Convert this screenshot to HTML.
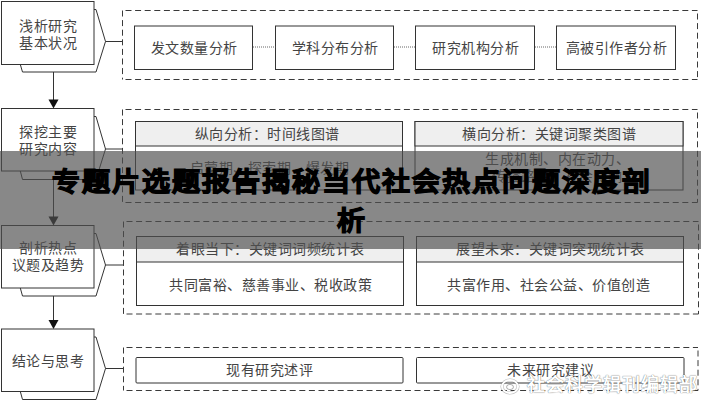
<!DOCTYPE html>
<html lang="zh-CN">
<head>
<meta charset="utf-8">
<style>
html,body{margin:0;padding:0;background:#fff;}
body{width:701px;height:400px;overflow:hidden;position:relative;font-family:"Liberation Serif",serif;color:#444;}
svg{position:absolute;left:0;top:0;}
.t{position:absolute;font-size:14px;letter-spacing:0.5px;line-height:17px;text-align:center;white-space:nowrap;display:flex;align-items:center;justify-content:center;}
.banner{position:absolute;left:0;top:151px;width:701px;height:98px;background:rgba(80,80,80,0.68);}
.title{position:absolute;left:0;top:151px;width:701px;height:98px;display:flex;align-items:center;justify-content:center;}
.title div{font-family:"Liberation Sans",sans-serif;font-weight:900;font-size:28px;letter-spacing:2px;padding-left:2px;line-height:41.5px;position:relative;top:1px;color:#000;text-align:center;width:610px;-webkit-text-stroke:1.3px #000;transform:scaleY(0.95);}
.wm{position:absolute;left:527px;top:375px;font-family:"Liberation Sans",sans-serif;font-size:18px;letter-spacing:1px;line-height:20px;font-weight:700;color:#fff;text-shadow:0 0 1px rgba(0,0,0,0.5),0 0 1px rgba(0,0,0,0.3);white-space:nowrap;}
</style>
</head>
<body>
<svg width="701" height="400" viewBox="0 0 701 400" fill="none">
<g stroke="#333" stroke-width="1">
<!-- left boxes -->
<rect x="1.5" y="1.5" width="92.5" height="63" fill="#fff"/>
<path d="M94 9.5 L96 9.5 L105.5 41.5 L96 72 L22.5 72 L20.3 64.5"/>
<path d="M105.5 41.5 L122.5 41.5"/>

<rect x="1.5" y="108.5" width="92.5" height="62.5" fill="#fff"/>
<path d="M94 116.5 L96 116.5 L105.5 149 L96 179.5 L22.5 179.5 L20.3 171"/>
<path d="M105.5 149 L122.5 149"/>

<rect x="1.5" y="225.5" width="92.5" height="62.5" fill="#fff"/>
<path d="M94 233.5 L96 233.5 L105.5 265 L96 296 L22.5 296 L20.3 288"/>
<path d="M105.5 265 L123.5 265"/>

<rect x="1.5" y="329" width="92.5" height="62.5" fill="#fff"/>
<path d="M94 337 L96 337 L105.5 368.5 L96 399.5 L22.5 399.5 L20.3 391.5"/>
<path d="M105.5 368.5 L123.5 368.5"/>

<!-- vertical arrows -->
<path d="M53.5 72 L53.5 100"/>
<path d="M53.5 179.5 L53.5 217"/>
<path d="M53.5 296 L53.5 320"/>
</g>
<g fill="#111">
<path d="M48.5 99.5 L58.5 99.5 L53.5 108.5 Z"/>
<path d="M48.5 216.5 L58.5 216.5 L53.5 225.5 Z"/>
<path d="M48.5 320 L58.5 320 L53.5 329 Z"/>
</g>

<!-- dashed containers -->
<g stroke="#3a3a3a" stroke-width="1" stroke-dasharray="6 3.6">
<path d="M122.5 10.5 H697.5" stroke-dashoffset="6.6"/>
<path d="M122.5 79.5 H697.5" stroke-dashoffset="6.6"/>
<path d="M122.5 10.5 V79.5" stroke-dashoffset="0"/>
<path d="M697.5 10.5 V79.5" stroke-dashoffset="6.6"/>
<path d="M122.5 109.5 H697.5" stroke-dashoffset="6.6"/>
<path d="M122.5 202.5 H697.5" stroke-dashoffset="6.6"/>
<path d="M122.5 109.5 V202.5" stroke-dashoffset="0"/>
<path d="M697.5 109.5 V202.5" stroke-dashoffset="6.6"/>
<path d="M123.5 221.5 H698.5" stroke-dashoffset="6.6"/>
<path d="M123.5 314 H698.5" stroke-dashoffset="6.6"/>
<path d="M123.5 221.5 V314" stroke-dashoffset="0"/>
<path d="M698.5 221.5 V314" stroke-dashoffset="6.6"/>
<path d="M123.5 347.5 H698" stroke-dashoffset="6.6"/>
<path d="M123.5 390.5 H698" stroke-dashoffset="6.6"/>
<path d="M123.5 347.5 V390.5" stroke-dashoffset="0"/>
<path d="M698 347.5 V390.5" stroke-dashoffset="6.6"/>
</g>

<!-- row1 inner boxes -->
<g stroke="#333" stroke-width="1" fill="#fff">
<rect x="134.5" y="26" width="118" height="43.5"/>
<rect x="275.5" y="26" width="118" height="43.5"/>
<rect x="415.5" y="26" width="119" height="43.5"/>
<rect x="556.5" y="26" width="119" height="43.5"/>
</g>
<g stroke="#666" stroke-width="1" stroke-dasharray="1 1">
<path d="M253 47 L275.5 47"/>
<path d="M394 47 L415 47"/>
<path d="M535 47 L556 47"/>
</g>

<!-- row2 panels -->
<g stroke="#333" stroke-width="1">
<rect x="135.5" y="121.5" width="267" height="68.5" fill="#fff"/>
<rect x="135.5" y="121.5" width="267" height="24.5" fill="#efefef"/>
<rect x="415" y="121.5" width="268" height="68.5" fill="#fff"/>
<rect x="415" y="121.5" width="268" height="24.5" fill="#efefef"/>
</g>

<!-- row3 panels -->
<g stroke="#333" stroke-width="1">
<rect x="136.5" y="236.5" width="267" height="69" fill="#fff"/>
<rect x="136.5" y="236.5" width="267" height="25.5" fill="#efefef"/>
<rect x="416.5" y="236.5" width="267" height="69" fill="#fff"/>
<rect x="416.5" y="236.5" width="267" height="25.5" fill="#efefef"/>
</g>

<!-- row4 boxes -->
<g stroke="#333" stroke-width="1" fill="#fff">
<rect x="136" y="357.5" width="267" height="25.5" rx="1"/>
<rect x="416.5" y="357.5" width="267.5" height="25.5" rx="1"/>
</g>
</svg>

<!-- left box texts -->
<div class="t" style="left:2px;top:2px;width:92px;height:66px;">浅析研究<br>基本状况</div>
<div class="t" style="left:2px;top:109px;width:92px;height:63px;">探挖主要<br>研究内容</div>
<div class="t" style="left:2px;top:226px;width:92px;height:62px;">剖析热点<br>议题及趋势</div>
<div class="t" style="left:2px;top:330px;width:92px;height:63px;">结论与思考</div>

<!-- row1 -->
<div class="t" style="left:135px;top:27px;width:118px;height:43px;">发文数量分析</div>
<div class="t" style="left:276px;top:27px;width:118px;height:43px;">学科分布分析</div>
<div class="t" style="left:416px;top:27px;width:119px;height:43px;">研究机构分析</div>
<div class="t" style="left:557px;top:27px;width:119px;height:43px;">高被引作者分析</div>

<!-- row2 -->
<div class="t" style="left:133.5px;top:122px;width:267px;height:24px;">纵向分析：时间线图谱</div>
<div class="t" style="left:415px;top:122px;width:268px;height:24px;">横向分析：关键词聚类图谱</div>
<div class="t" style="left:136px;top:146px;width:267px;height:44px;">启蒙期、探索期、爆发期</div>
<div class="t" style="left:415px;top:146px;width:268px;height:44px;padding-left:17px;box-sizing:border-box;">生成机制、内在动力、<br>传播路径、社会影响</div>

<!-- row3 -->
<div class="t" style="left:137px;top:237px;width:267px;height:25px;">着眼当下：关键词词频统计表</div>
<div class="t" style="left:417px;top:237px;width:267px;height:25px;">展望未来：关键词突现统计表</div>
<div class="t" style="left:137px;top:264px;width:267px;height:43px;">共同富裕、慈善事业、税收政策</div>
<div class="t" style="left:415px;top:264px;width:267px;height:43px;">共富作用、社会公益、价值创造</div>

<!-- row4 -->
<div class="t" style="left:136px;top:358px;width:267px;height:25px;">现有研究述评</div>
<div class="t" style="left:417px;top:358px;width:267px;height:25px;">未来研究建议</div>

<div class="banner"></div>
<div class="title"><div>专题片选题报告揭秘当代社会热点问题深度剖析</div></div>

<svg style="left:499px;top:376px" width="26" height="20" viewBox="0 0 26 20"><g fill="none"><ellipse cx="11" cy="10.5" rx="8" ry="6.5" stroke="rgba(0,0,0,0.25)" stroke-width="3.2"/><ellipse cx="11" cy="10.5" rx="8" ry="6.5" stroke="#fff" stroke-width="2"/><ellipse cx="11" cy="11" rx="3.5" ry="2.6" stroke="rgba(0,0,0,0.3)" stroke-width="1"/><path d="M19 4 Q21 2 23 4" stroke="#fff" stroke-width="1.6"/></g></svg>
<div class="wm">社会科学辑刊编辑部</div>
</body>
</html>
